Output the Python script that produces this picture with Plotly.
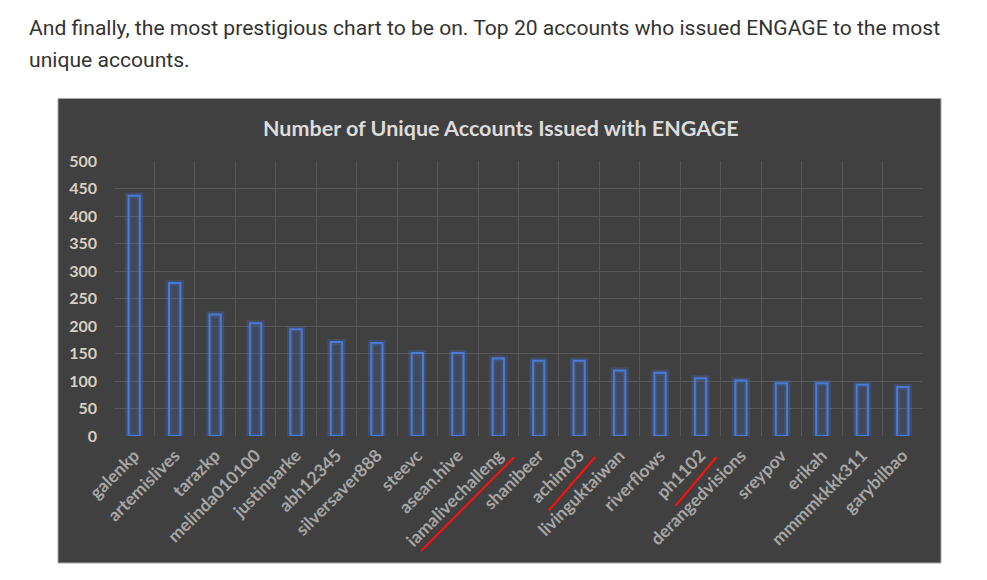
import plotly.graph_objects as go

# ---------------- data ----------------
accounts = ["galenkp", "artemislives", "tarazkp", "melinda010100", "justinparke",
            "abh12345", "silversaver888", "steevc", "asean.hive", "iamalivechalleng",
            "shanibeer", "achim03", "livinguktaiwan", "riverflows", "ph1102",
            "derangedvisions", "sreypov", "erikah", "mmmmkkkk311", "garybilbao"]
unique_accounts = [437, 278, 221, 205, 194, 171, 169, 151, 151, 141,
                   137, 137, 119, 115, 105, 101, 96, 96, 93, 89]
underlined = ["iamalivechalleng", "achim03", "ph1102"]

intro_line1 = "And finally, the most prestigious chart to be on. Top 20 accounts who issued ENGAGE to the most"
intro_line2 = "unique accounts."
chart_title = "Number of Unique Accounts Issued with ENGAGE"

# ---------------- layout geometry (pixels) ----------------
W, H = 987, 580
L, R, T, B = 114, 64, 161, 144
PW, PH = W - L - R, H - T - B
CAT = PW / len(accounts)

def px_x(p):
    return (p - L) / PW

def px_y(p):
    return (H - B - p) / PH

BG = "#404040"
GRID = "#575757"

fig = go.Figure()

# soft glow behind bars
fig.add_trace(go.Bar(
    x=accounts, y=unique_accounts, width=0.30,
    marker=dict(color="rgba(0,0,0,0)", line=dict(color="rgba(70,120,220,0.25)", width=6)),
    hoverinfo="skip", showlegend=False,
))
# bars
fig.add_trace(go.Bar(
    x=accounts, y=unique_accounts, width=0.28,
    marker=dict(color="rgba(68,100,170,0.22)", line=dict(color="#4a7ad4", width=2)),
    showlegend=False,
))

shapes = [
    dict(type="rect", xref="paper", yref="paper", layer="below",
         x0=px_x(58), x1=px_x(941), y0=px_y(563), y1=px_y(98.5),
         fillcolor=BG, line=dict(color="#a8a8a8", width=1)),
]

# red underlines for highlighted labels (rotated -45)
for name in underlined:
    i = accounts.index(name)
    n = len(name)
    end_px = L + CAT * (i + 0.5) + 16
    dx = 5.2 * n + 10
    dy = 4.5 * n + 22
    x_end = (end_px - L) / CAT - 0.5
    x_start = (end_px - dx - L) / CAT - 0.5
    shapes.append(dict(type="line", xref="x", yref="paper",
                       x0=x_start, x1=x_end, y0=px_y(457 + dy), y1=px_y(457),
                       line=dict(color="#ff1010", width=2)))

annotations = [
    dict(text=intro_line1, xref="paper", yref="paper", x=px_x(27), y=px_y(27),
         xanchor="left", yanchor="middle", showarrow=False,
         font=dict(family="Roboto", size=21.1, color="#333333")),
    dict(text=intro_line2, xref="paper", yref="paper", x=px_x(27), y=px_y(59),
         xanchor="left", yanchor="middle", showarrow=False,
         font=dict(family="Roboto", size=21.1, color="#333333")),
    dict(text=chart_title, xref="paper", yref="paper", x=px_x(500.5), y=px_y(128),
         xanchor="center", yanchor="middle", showarrow=False,
         font=dict(family="Lato", size=21.5, color="#dcdcdc", weight="bold")),
]

fig.update_layout(
    width=W, height=H,
    margin=dict(l=L, r=R, t=T, b=B, autoexpand=False),
    paper_bgcolor="white",
    plot_bgcolor="rgba(0,0,0,0)",
    barmode="overlay",
    shapes=shapes,
    annotations=annotations,
    xaxis=dict(
        type="category", range=[-0.5, len(accounts) - 0.5],
        tickson="boundaries", showgrid=True, gridcolor=GRID, gridwidth=1,
        ticks="", tickangle=-45, ticklabelstandoff=5,
        tickfont=dict(family="Lato", size=17.5, color="#a6a6a6", weight="bold"),
        showline=False, zeroline=False, fixedrange=True,
    ),
    yaxis=dict(
        range=[0, 500], dtick=50, tick0=0,
        showgrid=True, gridcolor=GRID, gridwidth=1,
        ticks="", ticklabelstandoff=16,
        tickfont=dict(family="Lato", size=16, color="#d8d0c2", weight="bold"),
        showline=False, zeroline=False, fixedrange=True,
    ),
)

fig.write_html("out.html", config={"displayModeBar": False},
               post_script="document.body.style.margin='0';document.body.style.padding='0';")
